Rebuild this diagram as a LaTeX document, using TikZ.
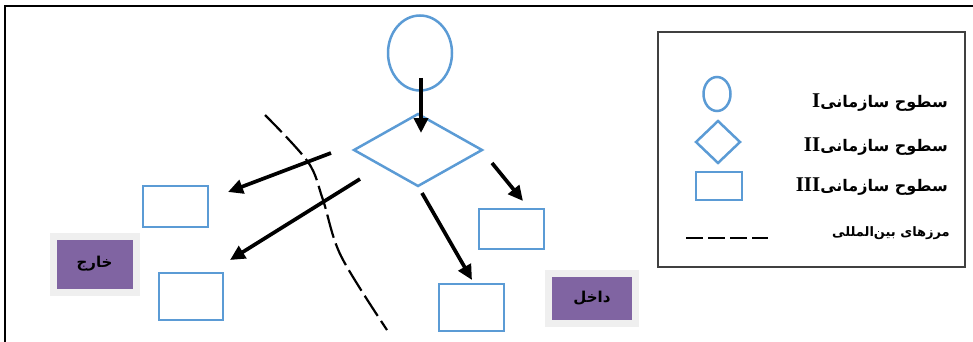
\documentclass[tikz,border=0pt]{standalone}
\usepackage{fontspec}
\usetikzlibrary{shapes.geometric,arrows.meta}
\TeXXeTstate=1
\newfontfamily\arabicfont[Script=Arabic]{DejaVu Sans}
\newfontfamily\numfont{Liberation Serif}
\definecolor{orgblue}{HTML}{5B9BD5}
\definecolor{labelpurple}{HTML}{8064A2}
\definecolor{halo}{HTML}{EFEFEF}
\definecolor{legendline}{HTML}{404040}
\newcommand{\levelnum}[1]{{\numfont\bfseries\fontsize{21}{22}\selectfont #1}}
\begin{document}
\begin{tikzpicture}[x=1pt,y=-1pt,
  lvlone/.style={ellipse, draw=orgblue, line width=2.5pt, inner sep=0pt},
  lvltwo/.style={diamond, draw=orgblue, line width=2.5pt, inner sep=0pt},
  lvlthree/.style={rectangle, draw=orgblue, line width=2.5pt, inner sep=0pt},
  flow/.style={line width=3.7pt, -{Triangle[length=15pt,width=14pt]}},
  border/.style={line width=2.2pt, dash pattern=on 24pt off 6pt},
  sidetag/.style={fill=labelpurple, draw=halo, line width=7pt, inner sep=0pt,
    font=\arabicfont\bfseries\fontsize{15}{17}\selectfont},
  legendtext/.style={anchor=east, inner sep=0pt,
    font=\arabicfont\bfseries\fontsize{16}{18}\selectfont}]
\useasboundingbox (0,0) rectangle (973,342);

% outer frame (top and left edges)
\draw[line width=2.5pt] (5,342) -- (5,6) -- (973,6);

% organisational levels
\node[lvlone, minimum width=64, minimum height=75] (top) at (420,53) {};
\node[lvltwo, minimum width=129, minimum height=73] (mid) at (418,150) {};
\node[lvlthree, minimum width=65, minimum height=41] (outA) at (175.5,206.5) {};
\node[lvlthree, minimum width=64, minimum height=47] (outB) at (191,296.5) {};
\node[lvlthree, minimum width=65, minimum height=40] (inA) at (511.5,229) {};
\node[lvlthree, minimum width=65, minimum height=47] (inB) at (471.5,307.5) {};

% arrow end points
\coordinate (s1) at (421,78);  \coordinate (t1) at (421,133);
\coordinate (s2) at (492,163); \coordinate (t2) at (523,201);
\coordinate (s3) at (422,193); \coordinate (t3) at (472,280);
\coordinate (s4) at (331,153); \coordinate (t4) at (228,192);
\coordinate (s5) at (360,179); \coordinate (t5) at (230,260);

\draw[flow] (s1) -- (t1);
\draw[flow] (s2) -- (t2);
\draw[flow] (s3) -- (t3);
\draw[flow] (s4) -- (t4);
\draw[flow] (s5) -- (t5);

% international border
\draw[border] plot[smooth, tension=0.55] coordinates
  {(265,115) (308,162) (323,200) (341,256) (387,330)};

% outside / inside tags
\node[sidetag, minimum width=83, minimum height=56] (outside) at (94.5,264)
  {\beginR خارج\endR};
\node[sidetag, minimum width=87, minimum height=50] (inside) at (592,298.5)
  {\beginR داخل\endR};

% legend
\node[draw=legendline, line width=1.2pt, minimum width=307, minimum height=235,
  inner sep=0pt] (legend) at (811.5,149.5) {};
\node[lvlone, minimum width=27, minimum height=34] (keyone) at (717,94) {};
\node[lvltwo, minimum width=45, minimum height=43] (keytwo) at (718,142) {};
\node[lvlthree, minimum width=46, minimum height=28] (keythree) at (719,186) {};
\coordinate (dashL) at (686,238);
\coordinate (dashR) at (768,238);
\draw[line width=2.5pt, dash pattern=on 17pt off 5pt] (dashL) -- (dashR);

\node[legendtext] (txtone) at (948,103)
  {\levelnum{I}\beginR سطوح سازمانی\endR};
\node[legendtext] (txttwo) at (948,147)
  {\levelnum{II}\beginR سطوح سازمانی\endR};
\node[legendtext] (txtthree) at (948,187)
  {\levelnum{III}\beginR سطوح سازمانی\endR};
\node[legendtext, font=\arabicfont\bfseries\fontsize{13}{15}\selectfont] (txtfour) at (950,233)
  {\beginR مرزهای بین‌المللی\endR};
\end{tikzpicture}
\end{document}
